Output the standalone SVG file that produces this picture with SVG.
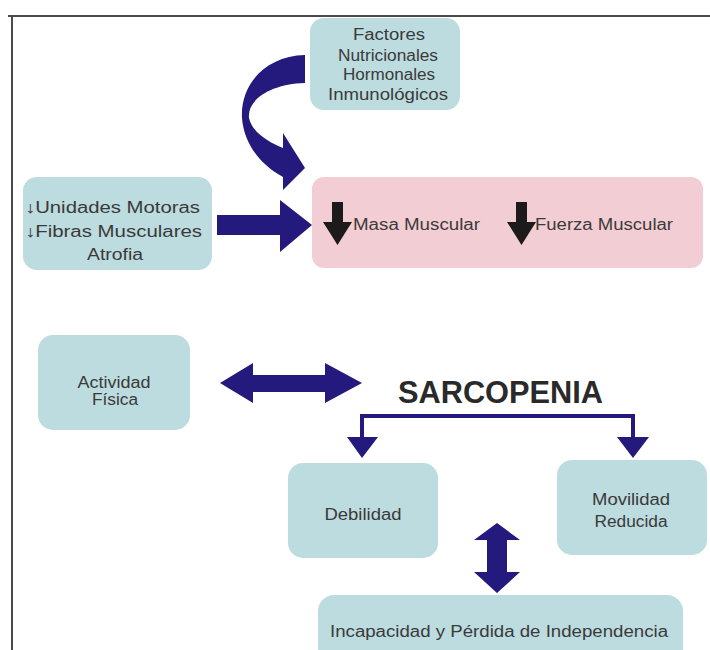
<svg xmlns="http://www.w3.org/2000/svg" width="710" height="650" viewBox="0 0 710 650">
<defs>
<style>
.node{fill:#bddcdf;}
.pink{fill:#f2cdd3;}
.arr{fill:#24197c;}
.blk{fill:#1c1a1a;}
.t{font-family:"Liberation Sans",Arial,sans-serif;font-size:16px;fill:#3a3a3a;text-anchor:middle;}
.tl{font-family:"Liberation Sans",Arial,sans-serif;font-size:16px;fill:#3a3a3a;}
.title{font-family:"Liberation Sans",Arial,sans-serif;font-size:31px;font-weight:bold;fill:#2a2a2a;}
</style>
</defs>
<rect x="0" y="0" width="710" height="650" fill="#ffffff"/>
<g id="frame" stroke="#4a4a4a" stroke-width="2" fill="none">
<line x1="8" y1="16" x2="710" y2="16"/>
<line x1="12" y1="16" x2="12" y2="650"/>
</g>
<g id="node-factores">
<rect class="node" x="310" y="18" width="150" height="92" rx="14"/>
<text class="t" x="389" y="40" textLength="72" lengthAdjust="spacingAndGlyphs">Factores</text>
<text class="t" x="388" y="61" textLength="100" lengthAdjust="spacingAndGlyphs">Nutricionales</text>
<text class="t" x="389" y="80" textLength="92" lengthAdjust="spacingAndGlyphs">Hormonales</text>
<text class="t" x="388" y="100" textLength="120" lengthAdjust="spacingAndGlyphs">Inmunológicos</text>
</g>
<g id="node-unidades">
<rect class="node" x="23" y="177" width="189" height="93" rx="14"/>
<text class="tl" x="25" y="213" textLength="175" lengthAdjust="spacingAndGlyphs">↓Unidades Motoras</text>
<text class="tl" x="25" y="237" textLength="177" lengthAdjust="spacingAndGlyphs">↓Fibras Musculares</text>
<text class="t" x="115" y="260" textLength="56" lengthAdjust="spacingAndGlyphs">Atrofia</text>
</g>
<g id="node-masa">
<rect class="pink" x="312" y="177" width="391" height="91" rx="12"/>
<polygon class="blk" points="332,202 343,202 343,222 352,222 337.5,245 323,222 332,222"/>
<text class="tl" x="353" y="230" textLength="127" lengthAdjust="spacingAndGlyphs">Masa Muscular</text>
<polygon class="blk" points="516,202 527,202 527,222 536,222 521.5,245 507,222 516,222"/>
<text class="tl" x="535" y="230" textLength="138" lengthAdjust="spacingAndGlyphs">Fuerza Muscular</text>
</g>
<g id="node-actividad">
<rect class="node" x="38" y="335" width="152" height="95" rx="15"/>
<text class="t" x="114" y="388" textLength="73" lengthAdjust="spacingAndGlyphs">Actividad</text>
<text class="t" x="115" y="405" textLength="46" lengthAdjust="spacingAndGlyphs">Física</text>
</g>
<g id="node-sarcopenia">
<text class="title" x="398" y="403" textLength="205" lengthAdjust="spacingAndGlyphs">SARCOPENIA</text>
</g>
<g id="node-debilidad">
<rect class="node" x="288" y="463" width="150" height="95" rx="15"/>
<text class="t" x="363" y="520" textLength="77" lengthAdjust="spacingAndGlyphs">Debilidad</text>
</g>
<g id="node-movilidad">
<rect class="node" x="557" y="460" width="150" height="95" rx="15"/>
<text class="t" x="631" y="505" textLength="78" lengthAdjust="spacingAndGlyphs">Movilidad</text>
<text class="t" x="631" y="527" textLength="73" lengthAdjust="spacingAndGlyphs">Reducida</text>
</g>
<g id="node-incapacidad">
<rect class="node" x="318" y="595" width="365" height="75" rx="16"/>
<text class="t" x="499" y="637" textLength="338" lengthAdjust="spacingAndGlyphs">Incapacidad y Pérdida de Independencia</text>
</g>
<g id="connectors">
<path class="arr" d="M305,55 C265,56 240,85 242,118 C244,145 262,166 283,177 L283,190 L305,168 L283,133 L283,148 C268,142 252,132 249,118 C247,100 270,84 305,83 Z"/>
<polygon class="arr" points="217,215 280,215 280,200 312,225 280,252 280,235 217,235"/>
<polygon class="arr" points="220,383 253,363 253,375 325,375 325,363 362,383 325,403 325,392 253,392 253,403"/>
<polyline points="362,437 362,416 633,416 633,437" fill="none" stroke="#24197c" stroke-width="4"/>
<polygon class="arr" points="347,437 378,437 362,458"/>
<polygon class="arr" points="617,437 649,437 633,458"/>
<polygon class="arr" points="497,523 520,540 507,540 507,572 520,572 497,593 474,572 487,572 487,540 474,540"/>
</g>
</svg>
